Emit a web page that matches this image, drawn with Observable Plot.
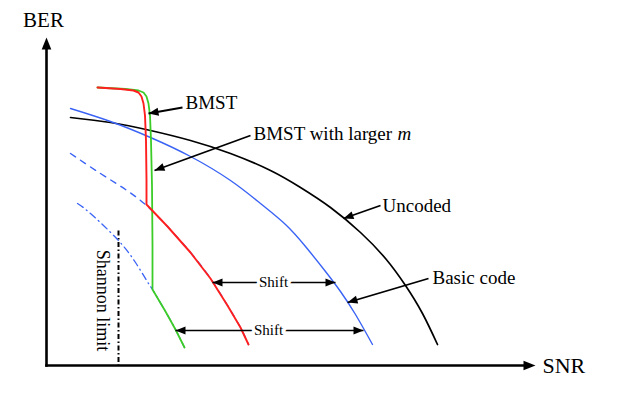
<!DOCTYPE html>
<html><head><meta charset="utf-8">
<script src="https://cdn.jsdelivr.net/npm/d3@7"></script>
<script src="https://cdn.jsdelivr.net/npm/@observablehq/plot@0.6"></script>
<style>body{margin:0;background:#fff;}</style>
</head><body><div id="chart"></div>
<script>
// ---- schematic data (arbitrary SNR / BER units) ----
const uncodedSNR = [24, 64, 104, 144, 184, 224, 254, 284, 314, 339, 359, 376, 391];
const uncodedBER = [248, 243, 235, 225, 212, 195, 178, 158, 133, 107, 80, 52, 21];

const basicSNR = [24, 64, 104, 144, 184, 214, 239, 259, 279, 294, 309, 326];
const basicBER = [257, 244, 228, 209, 185, 162, 141, 119, 94, 74, 51, 21];

const largerSNR = [24, 54, 79, 100, 121, 144, 164, 181, 194, 202];
const largerBER = [212, 192, 176, 160, 139, 113, 87, 60, 38, 21];

const limitSNR = [31, 44, 71, 89, 102, 106, 119, 129, 138];
const limitBER = [162, 152, 126, 103, 82, 76, 54, 36, 18];

const bmstSNR = [51, 74, 87, 92, 95, 97, 98.5, 99.5, 100, 100, 121, 144, 164, 181, 194, 202];
const bmstBER = [278, 276.5, 275, 273, 269, 262, 250, 225, 185, 161, 139, 113, 87, 60, 38, 21];

const bmstLargeSNR = [51, 79, 92, 97, 100, 102, 103.5, 104.5, 105.5, 106, 106, 119, 129, 138];
const bmstLargeBER = [278, 276.5, 275, 273, 269, 262, 250, 225, 180, 120, 76, 54, 36, 18];

const shannonSNR = 72;
const shannonTopBER = 135;

const labelTexts = ["BMST", "BMST with larger", "Uncoded", "Basic code"];
const labelSNR = [139, 207, 336, 386];
const labelBER = [263, 232, 160, 88];
const pointerFromSNR = [136, 204, 334, 382];
const pointerFromBER = [258, 230, 160, 87];
const pointerToSNR = [102, 108, 297, 301];
const pointerToBER = [252, 195, 147, 63];

const shiftLabels = ["Shift", "Shift"];
const shiftLabelSNR = [227, 222];
const shiftBER = [83, 35];
const shiftFromSNR = [166, 129];
const shiftToSNR = [289, 317];

const axisMaxSNR = 489;
const axisMaxBER = 328;

// ---- build ----
const rows = (xs, ys) => xs.map((x, i) => ({x, y: ys[i]}));
const deg = (dx, dy) => Math.atan2(dx, dy) * 180 / Math.PI;

const head = {draw(ctx, size) {
  const r = Math.sqrt(size / Math.PI);
  ctx.moveTo(0, 0); ctx.lineTo(-0.4 * r, r); ctx.lineTo(0.4 * r, r); ctx.closePath();
}};

const pointers = labelTexts.map((t, i) => ({
  x1: pointerFromSNR[i], y1: pointerFromBER[i], x2: pointerToSNR[i], y2: pointerToBER[i],
  rot: deg(pointerToSNR[i] - pointerFromSNR[i], pointerToBER[i] - pointerFromBER[i])
}));
const labels = labelTexts.map((t, i) => ({text: t, x: labelSNR[i], y: labelBER[i]}));
const shifts = shiftLabels.map((t, i) => ({text: t, x: shiftLabelSNR[i], y: shiftBER[i], x1: shiftFromSNR[i], x2: shiftToSNR[i]}));
const shiftHeads = shifts.flatMap(s => [{x: s.x1, y: s.y, rot: -90}, {x: s.x2, y: s.y, rot: 90}]);
const axisHeads = [{x: 0, y: axisMaxBER, rot: 0}, {x: axisMaxSNR, y: 0, rot: 90}];

const font = "Liberation Serif, Times New Roman, serif";
const BLUE = "#3a63f5", RED = "#ff1f1f", GREEN = "#3ccc28";

const chart = Plot.plot({
  width: 623, height: 393,
  marginLeft: 46, marginRight: 88, marginTop: 37, marginBottom: 28,
  x: {domain: [0, axisMaxSNR], axis: null},
  y: {domain: [0, axisMaxBER], axis: null},
  style: {fontFamily: font, background: "white", overflow: "visible"},
  marks: [
    // axes
    Plot.link([{x1: 0, y1: 0, x2: 0, y2: axisMaxBER - 8}, {x1: 0, y1: 0, x2: axisMaxSNR - 8, y2: 0}],
      {x1: "x1", y1: "y1", x2: "x2", y2: "y2", stroke: "black", strokeWidth: 2.6, strokeLinecap: "square"}),
    Plot.dot(axisHeads, {x: "x", y: "y", rotate: "rot", symbol: head, r: 12, fill: "black", stroke: "none"}),
    // Shannon limit
    Plot.link([{x1: shannonSNR, y1: shannonTopBER, x2: shannonSNR, y2: 0}],
      {x1: "x1", y1: "y1", x2: "x2", y2: "y2", stroke: "black", strokeWidth: 2, strokeDasharray: "5,2.5,1.5,2.5"}),
    // curves
    Plot.line(rows(uncodedSNR, uncodedBER), {x: "x", y: "y", curve: "natural", stroke: "black", strokeWidth: 1.7}),
    Plot.line(rows(basicSNR, basicBER), {x: "x", y: "y", curve: "natural", stroke: BLUE, strokeWidth: 1.4}),
    Plot.line(rows(largerSNR, largerBER), {x: "x", y: "y", curve: "natural", stroke: BLUE, strokeWidth: 1.4, strokeDasharray: "6,6"}),
    Plot.line(rows(limitSNR, limitBER), {x: "x", y: "y", curve: "natural", stroke: BLUE, strokeWidth: 1.3, strokeDasharray: "7,4,1,4"}),
    Plot.line(rows(bmstLargeSNR, bmstLargeBER), {x: "x", y: "y", curve: "linear", stroke: GREEN, strokeWidth: 1.8}),
    Plot.line(rows(bmstSNR, bmstBER), {x: "x", y: "y", curve: "linear", stroke: RED, strokeWidth: 1.9}),
    // pointer arrows
    Plot.link(pointers, {x1: "x1", y1: "y1", x2: "x2", y2: "y2", stroke: "black", strokeWidth: 1.8}),
    Plot.dot(pointers, {x: "x2", y: "y2", rotate: "rot", symbol: head, r: 10, fill: "black", stroke: "none"}),
    // shift arrows
    Plot.link(shifts, {x1: "x1", y1: "y", x2: "x2", y2: "y", stroke: "black", strokeWidth: 1.5}),
    Plot.dot(shiftHeads, {x: "x", y: "y", rotate: "rot", symbol: head, r: 10, fill: "black", stroke: "none"}),
    Plot.text(shifts, {x: "x", y: "y", text: "text", fontSize: 15, fill: "white", stroke: "white", strokeWidth: 7, fontFamily: font}),
    Plot.text(shifts, {x: "x", y: "y", text: "text", fontSize: 15, fill: "black", fontFamily: font}),
    // labels
    Plot.text(labels, {x: "x", y: "y", text: "text", textAnchor: "start", fontSize: 19, fill: "black", fontFamily: font}),
    Plot.text([{x: 351, y: 232, text: "m"}], {x: "x", y: "y", text: "text", textAnchor: "start", fontSize: 19, fontStyle: "italic", fill: "black", fontFamily: font}),
    Plot.text([{x: 56, y: 65, text: "Shannon limit"}], {x: "x", y: "y", text: "text", rotate: 90, fontSize: 18, fill: "black", fontFamily: font}),
    Plot.text([{x: -3, y: 345, text: "BER"}], {x: "x", y: "y", text: "text", fontSize: 21, fill: "black", fontFamily: font}),
    Plot.text([{x: 496, y: 0, text: "SNR"}], {x: "x", y: "y", text: "text", textAnchor: "start", fontSize: 22, fill: "black", fontFamily: font})
  ]
});
document.getElementById("chart").appendChild(chart);
</script></body></html>
